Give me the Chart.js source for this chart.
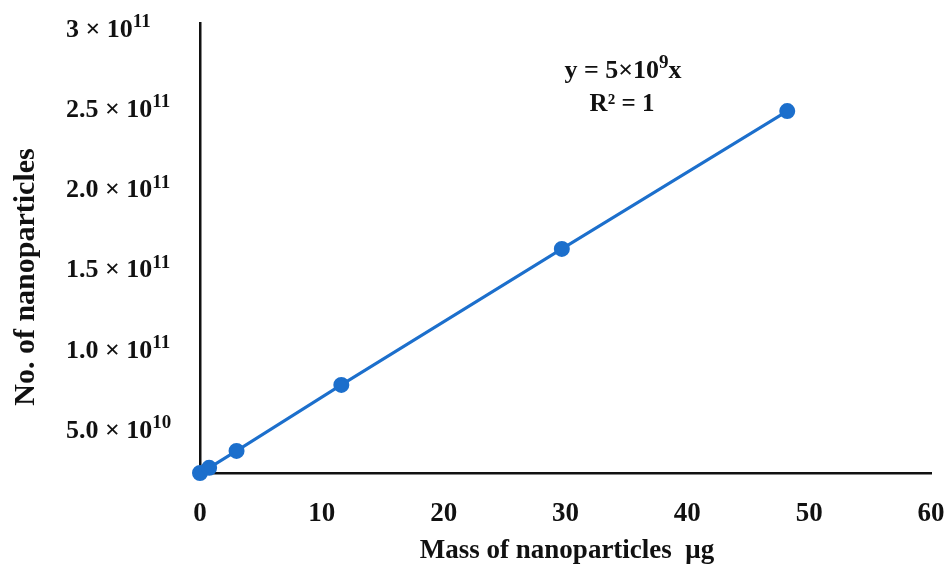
<!DOCTYPE html>
<html lang="en">

<head>
    <meta charset="UTF-8">
    <title>Mass vs number of nanoparticles</title>
    <script src="https://cdn.jsdelivr.net/npm/chart.js"></script>
    <style>
        html, body { margin: 0; padding: 0; background: #fff; }
        #wrap { width: 948px; height: 567px; }
    </style>
</head>

<body>
    <div id="wrap"><canvas id="massChart"></canvas></div>
    <script>
        // values
        const massValues = [0, 0.75, 3, 11.6, 29.7, 48.2];
        const particleValues = [2.31e10, 2.63e10, 3.69e10, 7.81e10, 1.63e11, 2.49e11];

        const xTicks = [0, 10, 20, 30, 40, 50, 60];
        const yTicks = [5e10, 1e11, 1.5e11, 2e11, 2.5e11, 3e11];
        const yTickBase = ['5.0 × 10', '1.0 × 10', '1.5 × 10', '2.0 × 10', '2.5 × 10', '3 × 10'];
        const yTickExp = ['10', '11', '11', '11', '11', '11'];

        const FONT = "'Liberation Serif', 'DejaVu Serif', serif";
        const lineColor = '#1c6fcc';

        // draws the y tick labels with superscripts, the axis titles and the fit text
        const labelPlugin = {
            id: 'labels',
            afterDraw(chart) {
                const ctx = chart.ctx;
                const y = chart.scales.y;
                ctx.save();
                ctx.fillStyle = '#111';
                ctx.textBaseline = 'middle';
                ctx.textAlign = 'left';
                yTicks.forEach((v, i) => {
                    const py = y.getPixelForValue(v) + 1;
                    ctx.font = 'bold 26px ' + FONT;
                    ctx.fillText(yTickBase[i], 66, py);
                    const w = ctx.measureText(yTickBase[i]).width;
                    ctx.font = 'bold 19px ' + FONT;
                    ctx.fillText(yTickExp[i], 66 + w, py - 8);
                });

                // y title
                ctx.font = 'bold 30px ' + FONT;
                ctx.textAlign = 'center';
                ctx.translate(26, 277);
                ctx.rotate(-Math.PI / 2);
                ctx.fillText('No. of nanoparticles', 0, 0);
                ctx.setTransform(1, 0, 0, 1, 0, 0);

                // x title
                ctx.font = 'bold 27px ' + FONT;
                ctx.fillText('Mass of nanoparticles  μg', 567, 551);

                // equation
                ctx.font = 'bold 26px ' + FONT;
                const eq1 = 'y = 5×10';
                const w1 = ctx.measureText(eq1).width;
                ctx.font = 'bold 19px ' + FONT;
                const w9 = ctx.measureText('9').width;
                ctx.font = 'bold 26px ' + FONT;
                const wx = ctx.measureText('x').width;
                let sx = 623 - (w1 + w9 + wx) / 2;
                ctx.textAlign = 'left';
                ctx.fillText(eq1, sx, 71);
                ctx.font = 'bold 19px ' + FONT;
                ctx.fillText('9', sx + w1, 63);
                ctx.font = 'bold 26px ' + FONT;
                ctx.fillText('x', sx + w1 + w9, 71);
                ctx.font = 'bold 25px ' + FONT;
                ctx.textAlign = 'center';
                ctx.fillText('R² = 1', 622, 105);
                ctx.restore();
            }
        };

        const ctxMass = document.getElementById('massChart').getContext('2d');
        new Chart(ctxMass, {
            type: 'scatter',
            data: {
                datasets: [{
                    data: massValues.map((m, i) => ({ x: m, y: particleValues[i] })),
                    showLine: true,
                    borderColor: lineColor,
                    backgroundColor: lineColor,
                    borderWidth: 3,
                    pointRadius: 6.5,
                    pointHoverRadius: 6.5,
                    clip: false
                }]
            },
            options: {
                responsive: true,
                maintainAspectRatio: false,
                animation: false,
                layout: { padding: { top: 23, right: 17, left: 0, bottom: 0 } },
                plugins: {
                    legend: { display: false },
                    tooltip: { enabled: false }
                },
                scales: {
                    x: {
                        type: 'linear',
                        min: 0,
                        max: 60,
                        afterBuildTicks: (s) => { s.ticks = xTicks.map(v => ({ value: v })); },
                        afterFit: (s) => { s.height = 94; s.paddingLeft = 0; s.paddingRight = 0; },
                        grid: { display: false, drawTicks: false },
                        border: { color: '#111', width: 2.5 },
                        ticks: {
                            color: '#111',
                            padding: 25,
                            maxRotation: 0,
                            font: { family: FONT, size: 27, weight: 'bold' }
                        }
                    },
                    y: {
                        type: 'linear',
                        min: 2.31e10,
                        max: 3.04e11,
                        afterBuildTicks: (s) => { s.ticks = yTicks.map(v => ({ value: v })); },
                        afterFit: (s) => { s.width = 200; s.paddingTop = 0; s.paddingBottom = 0; },
                        grid: { display: false, drawTicks: false },
                        border: { color: '#111', width: 2.5 },
                        ticks: { callback: () => '' }
                    }
                }
            },
            plugins: [labelPlugin]
        });
    </script>
</body>

</html>
